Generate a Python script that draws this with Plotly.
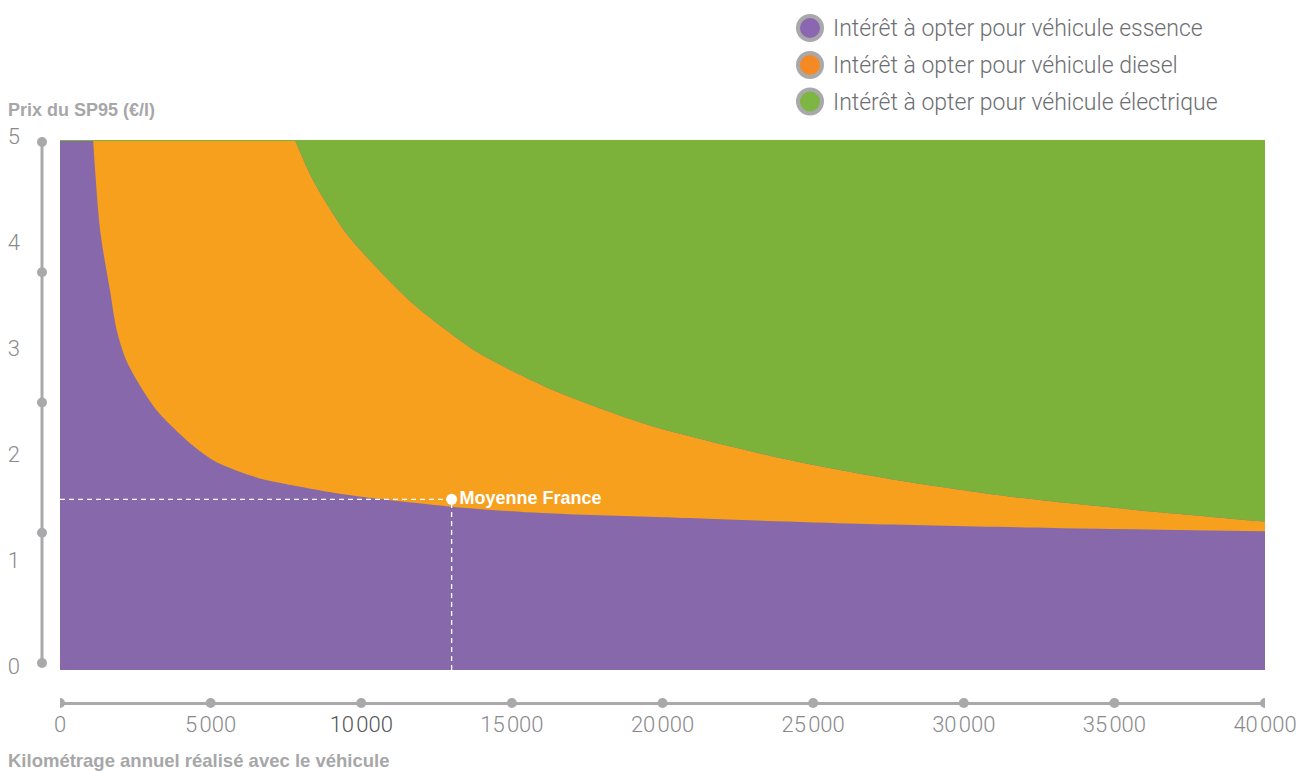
import plotly.graph_objects as go

# Seuil essence / diesel (prix SP95 en €/l selon le kilométrage annuel)
km_essence = [1100, 1330, 1660, 1880, 2200, 2750, 3300, 4400, 5200,
              6600, 7400, 9600, 13000, 16000, 20000, 26500, 33000, 40000]
prix_essence = [5, 4.15, 3.58, 3.21, 2.92, 2.64, 2.42, 2.12, 1.96,
                1.81, 1.76, 1.65, 1.54, 1.48, 1.44, 1.38, 1.34, 1.31]

# Seuil diesel / électrique
km_diesel = [7800, 8400, 9500, 10600, 11700, 12800, 13900, 16200, 18400,
             19900, 23900, 27800, 31700, 35700, 40000]
prix_diesel = [5, 4.62, 4.12, 3.77, 3.46, 3.21, 2.99, 2.66, 2.42,
               2.28, 2.00, 1.79, 1.63, 1.51, 1.40]

# Bornes de l'échelle
km_min, km_max = 0, 40000
prix_max = 5

# Point de référence
moyenne_km = 13000
moyenne_prix = 1.61
moyenne_label = "Moyenne France"

legend_labels = [
    "Intérêt à opter pour véhicule essence",
    "Intérêt à opter pour véhicule diesel",
    "Intérêt à opter pour véhicule électrique",
]
legend_colors = ["#8A67B0", "#F58A24", "#7DB642"]

x_ticks = [0, 5000, 10000, 15000, 20000, 25000, 30000, 35000, 40000]
x_ticktext = ["0", "5\u200a000", "<span style='color:#555555'>10\u200a000</span>",
              "15\u200a000", "20\u200a000", "25\u200a000", "30\u200a000",
              "35\u200a000", "40\u200a000"]
y_ticks = [0, 1, 2, 3, 4, 5]

PURPLE = "#8769AB"
ORANGE = "#F6A01E"
GREEN = "#7CB13A"
GREY = "#A9A9AB"
LIGHT_FONT = dict(family="Roboto, 'Liberation Sans', sans-serif", weight=300)
BOLD_FONT = "Liberation Sans, Arial, sans-serif"

W, H = 1314, 771
ML, MR, MT, MB = 42, 49, 140, 68
PW, PH = W - ML - MR, H - MT - MB


def px_x(px):
    return (px - ML) / PW


def px_y(py):
    return (H - MB - py) / PH


curve = dict(width=0, shape="spline", smoothing=0.8)

fig = go.Figure()

# Fond essence sur toute l'échelle, recouvert ensuite par les autres zones
fig.add_trace(go.Scatter(x=[km_min, km_max], y=[prix_max, prix_max],
                         mode="lines", line=dict(width=0, color=PURPLE),
                         fill="tozeroy", fillcolor=PURPLE,
                         hoverinfo="skip", showlegend=False))
# Seuil essence / diesel
fig.add_trace(go.Scatter(x=km_essence, y=prix_essence, mode="lines",
                         line=dict(color=PURPLE, **curve),
                         fill="tozeroy", fillcolor=PURPLE,
                         hoverinfo="skip", showlegend=False))
# Zone diesel
fig.add_trace(go.Scatter(x=km_diesel, y=prix_diesel, mode="lines",
                         line=dict(color=ORANGE, **curve),
                         fill="tonexty", fillcolor=ORANGE,
                         hoverinfo="skip", showlegend=False))
# Zone électrique
fig.add_trace(go.Scatter(x=[km_min, km_max], y=[prix_max, prix_max],
                         mode="lines", line=dict(width=2, color=GREEN),
                         fill="tonexty", fillcolor=GREEN,
                         hoverinfo="skip", showlegend=False))

# Repère "Moyenne France"
dash_line = dict(color="white", width=1.3, dash="5px,4px")
fig.add_trace(go.Scatter(x=[km_min, moyenne_km], y=[moyenne_prix, moyenne_prix],
                         mode="lines", line=dash_line, hoverinfo="skip",
                         showlegend=False))
fig.add_trace(go.Scatter(x=[moyenne_km, moyenne_km], y=[0, moyenne_prix],
                         mode="lines", line=dash_line, hoverinfo="skip",
                         showlegend=False))
fig.add_trace(go.Scatter(x=[moyenne_km], y=[moyenne_prix], mode="markers+text",
                         marker=dict(color="white", size=11),
                         text=["<b>" + moyenne_label + "</b>"],
                         textposition="middle right",
                         textfont=dict(family=BOLD_FONT, size=18, color="white"),
                         hoverinfo="skip", showlegend=False))

shapes = []
# Axe vertical décoratif
y_dots = [142, 272.25, 402.5, 532.75, 663]
shapes.append(dict(type="line", xref="paper", yref="paper", x0=0, x1=0,
                   y0=px_y(y_dots[0]), y1=px_y(y_dots[-1]),
                   line=dict(color=GREY, width=3), layer="below"))
for py in y_dots:
    shapes.append(dict(type="circle", xref="paper", yref="paper",
                       xsizemode="pixel", ysizemode="pixel",
                       xanchor=0, yanchor=px_y(py),
                       x0=-5, x1=5, y0=-5, y1=5,
                       fillcolor=GREY, line=dict(width=0)))
# Points sur l'axe horizontal
for xv in x_ticks:
    shapes.append(dict(type="circle", xref="x", yref="paper",
                       xsizemode="pixel", ysizemode="pixel",
                       xanchor=xv, yanchor=0,
                       x0=-5, x1=5, y0=-5, y1=5,
                       fillcolor=GREY, line=dict(width=0)))

annotations = []
# Légende
legend_y = [28, 65, 101.5]
for label, color, py in zip(legend_labels, legend_colors, legend_y):
    shapes.append(dict(type="circle", xref="paper", yref="paper",
                       xsizemode="pixel", ysizemode="pixel",
                       xanchor=px_x(810), yanchor=px_y(py),
                       x0=-12, x1=12, y0=-12, y1=12,
                       fillcolor=color, line=dict(color=GREY, width=4)))
    annotations.append(dict(xref="paper", yref="paper", x=px_x(831),
                            y=px_y(py + 1), xanchor="left", yanchor="middle",
                            text=label, showarrow=False,
                            font=dict(size=23, color="#6D6E71", **LIGHT_FONT)))

# Titres des axes
annotations.append(dict(xref="paper", yref="paper", x=px_x(6), y=px_y(110),
                        xanchor="left", yanchor="middle",
                        text="<b>Prix du SP95 (€/l)</b>", showarrow=False,
                        font=dict(family=BOLD_FONT, size=18, color="#A7A7A9")))
annotations.append(dict(xref="paper", yref="paper", x=px_x(6), y=px_y(760),
                        xanchor="left", yanchor="middle",
                        text="<b>Kilométrage annuel réalisé avec le véhicule</b>",
                        showarrow=False,
                        font=dict(family=BOLD_FONT, size=18.5, color="#A7A7A9")))

fig.update_layout(
    width=W, height=H,
    margin=dict(l=ML, r=MR, t=MT, b=MB, pad=0, autoexpand=False),
    paper_bgcolor="white", plot_bgcolor="white",
    showlegend=False,
    shapes=shapes,
    annotations=annotations,
    xaxis=dict(
        domain=[px_x(60), 1], range=[km_min, km_max], anchor="free", position=0,
        automargin=False,
        showgrid=False, zeroline=False, showline=True,
        linecolor=GREY, linewidth=3,
        tickmode="array", tickvals=x_ticks, ticktext=x_ticktext,
        ticks="", ticklabelstandoff=1,
        tickfont=dict(size=22, color="#8A8A8C", **LIGHT_FONT),
    ),
    yaxis=dict(
        domain=[px_y(670), 1], range=[0, prix_max], anchor="free", position=0,
        automargin=False,
        showgrid=False, zeroline=False, showline=False,
        tickmode="array", tickvals=y_ticks, ticks="",
        ticklabelstandoff=22, ticklabelshift=-4,
        tickfont=dict(size=22, color="#8A8A8C", **LIGHT_FONT),
    ),
)

fig.write_html("out.html")
